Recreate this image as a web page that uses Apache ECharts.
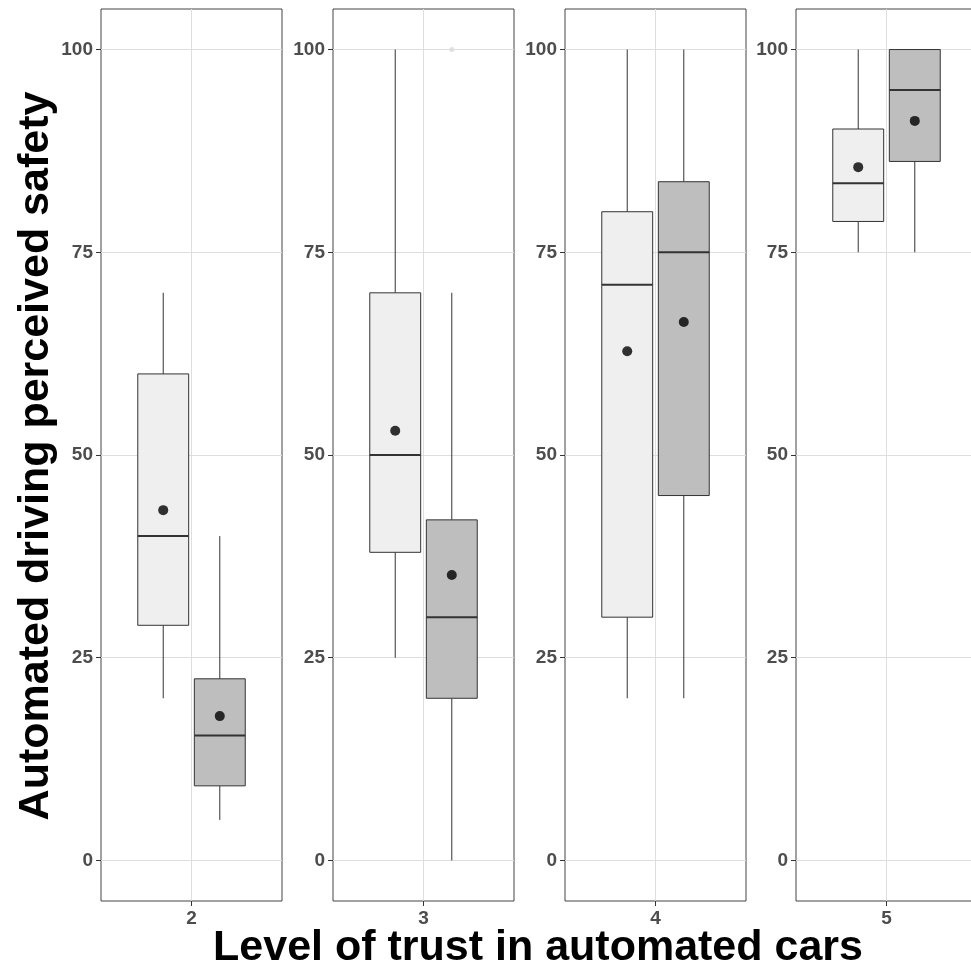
<!DOCTYPE html>
<html>
<head>
<meta charset="utf-8">
<script src="https://cdn.jsdelivr.net/npm/echarts@6/dist/echarts.min.js"></script>
<style>
  html, body { margin: 0; padding: 0; background: #fff; }
  #chart { width: 971px; height: 970px; }
</style>
</head>
<body>
<div id="chart"></div>
<script>
// Level of trust (facets)
const levels = ['2', '3', '4', '5'];
const yTicks = [0, 25, 50, 75, 100];

// light group
const lightLow = [20, 25, 20, 75];
const lightQ1 = [29, 38, 30, 78.8];
const lightMedian = [40, 50, 71, 83.5];
const lightQ3 = [60, 70, 80, 90.2];
const lightHigh = [70, 100, 100, 100];
const lightMean = [43.2, 53, 62.8, 85.5];

// dark group
const darkLow = [5, 0, 20, 75];
const darkQ1 = [9.2, 20, 45, 86.2];
const darkMedian = [15.4, 30, 75, 95];
const darkQ3 = [22.4, 42, 83.7, 100];
const darkHigh = [40, 70, 100, 100];
const darkMean = [17.8, 35.2, 66.4, 91.2];

// faint outlier: [facet index, value]
const darkOutliers = [[1, 100]];

const chart = echarts.init(document.getElementById('chart'));

const FONT = 'Liberation Sans, Arial, sans-serif';
const panelLeft = [101, 333, 565, 796];
const DODGE = 0.1875;   // group offset from the category centre
const BOX_W = 0.3375;   // box width in x units

function renderBox(params, api) {
    const x = api.value(0);
    const low = api.coord([x, api.value(1)]);
    const q1 = api.coord([x, api.value(2)]);
    const med = api.coord([x, api.value(3)]);
    const q3 = api.coord([x, api.value(4)]);
    const high = api.coord([x, api.value(5)]);
    const half = api.size([BOX_W, 0])[0] / 2;
    const cx = med[0];
    const line = { stroke: '#333', lineWidth: 1 };
    return {
        type: 'group',
        children: [
            { type: 'line', shape: { x1: cx, y1: high[1], x2: cx, y2: q3[1] }, style: line },
            { type: 'line', shape: { x1: cx, y1: q1[1], x2: cx, y2: low[1] }, style: line },
            {
                type: 'rect',
                shape: { x: cx - half, y: q3[1], width: half * 2, height: q1[1] - q3[1] },
                style: { fill: api.visual('color'), stroke: '#333', lineWidth: 1 }
            },
            { type: 'line', shape: { x1: cx - half, y1: med[1], x2: cx + half, y2: med[1] }, style: { stroke: '#333', lineWidth: 2 } }
        ]
    };
}

const grid = [], xAxis = [], yAxis = [], series = [];

levels.forEach((lv, i) => {
    grid.push({
        left: panelLeft[i], top: 9, width: 181, height: 892,
        outerBoundsMode: 'none',
        show: true, borderColor: '#444', borderWidth: 1, backgroundColor: '#fff'
    });
    xAxis.push({
        gridIndex: i, type: 'value', min: 0.4, max: 1.6, position: 'bottom',
        axisLine: { show: false, onZero: false },
        axisTick: { show: true, customValues: [1], length: 5, lineStyle: { color: '#333' } },
        axisLabel: {
            customValues: [1], formatter: () => lv,
            color: '#4d4d4d', fontSize: 19, fontWeight: 'bold', fontFamily: FONT, margin: 8
        },
        splitLine: { show: true, lineStyle: { color: '#dedede', width: 1 } }
    });
    yAxis.push({
        gridIndex: i, type: 'value', min: -5, max: 105,
        axisLine: { show: false, onZero: false },
        axisTick: { show: true, customValues: yTicks, length: 5, lineStyle: { color: '#333' } },
        axisLabel: {
            customValues: yTicks,
            color: '#4d4d4d', fontSize: 19, fontWeight: 'bold', fontFamily: FONT, margin: 8
        },
        splitLine: { show: true, lineStyle: { color: '#dedede', width: 1 } }
    });

    series.push({
        type: 'custom', xAxisIndex: i, yAxisIndex: i,
        renderItem: renderBox,
        itemStyle: { color: '#efefef' },
        encode: { x: 0, y: [1, 2, 3, 4, 5] },
        data: [[1 - DODGE, lightLow[i], lightQ1[i], lightMedian[i], lightQ3[i], lightHigh[i]]]
    });
    series.push({
        type: 'custom', xAxisIndex: i, yAxisIndex: i,
        renderItem: renderBox,
        itemStyle: { color: '#bebebe' },
        encode: { x: 0, y: [1, 2, 3, 4, 5] },
        data: [[1 + DODGE, darkLow[i], darkQ1[i], darkMedian[i], darkQ3[i], darkHigh[i]]]
    });
    series.push({
        type: 'scatter', xAxisIndex: i, yAxisIndex: i,
        symbolSize: 10, itemStyle: { color: '#000' }, z: 5,
        data: [[1 - DODGE, lightMean[i]], [1 + DODGE, darkMean[i]]]
    });
    const outl = darkOutliers.filter(o => o[0] === i).map(o => [1 + DODGE, o[1]]);
    if (outl.length) {
        series.push({
            type: 'scatter', xAxisIndex: i, yAxisIndex: i,
            symbolSize: 5, itemStyle: { color: '#dadada' },
            data: outl
        });
    }
});

const option = {
    animation: false,
    backgroundColor: '#fff',
    grid, xAxis, yAxis, series,
    graphic: [
        {
            type: 'text', x: 36, y: 456, rotation: Math.PI / 2,
            style: {
                text: 'Automated driving perceived safety',
                fontSize: 43, fontWeight: 'bold', fontFamily: FONT, fill: '#000',
                align: 'center', verticalAlign: 'middle'
            }
        },
        {
            type: 'text', x: 538, y: 948,
            style: {
                text: 'Level of trust in automated cars',
                fontSize: 43, fontWeight: 'bold', fontFamily: FONT, fill: '#000',
                align: 'center', verticalAlign: 'middle'
            }
        }
    ]
};

chart.setOption(option);
</script>
</body>
</html>
